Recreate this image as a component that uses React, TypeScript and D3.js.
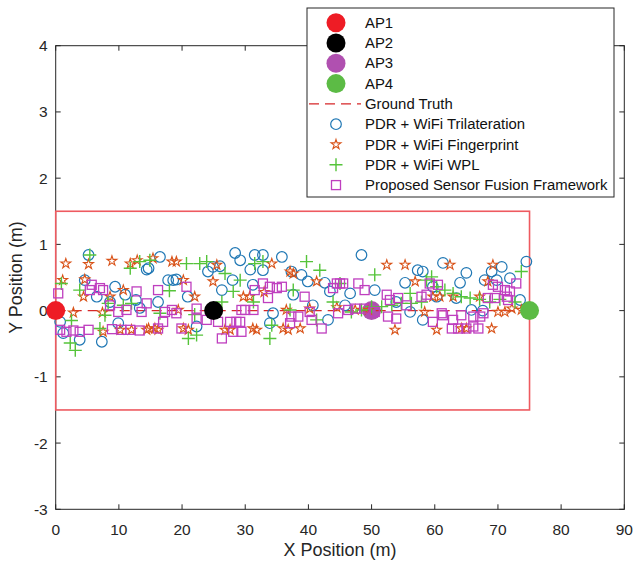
import React from "react";
import * as d3 from "d3";

const xTicks = [0, 10, 20, 30, 40, 50, 60, 70, 80, 90];
const yTicks = [-3, -2, -1, 0, 1, 2, 3, 4];

const apNames = ["AP1", "AP2", "AP3", "AP4"];
const apX = [0, 25, 50, 75];
const apY = [0, 0, 0, 0];
const apColors = ["#EE1C25", "#000000", "#B050B0", "#5CBB45"];

const groundTruthX = [0, 75];
const groundTruthY = [0, 0];

const zoneX = [0, 75];
const zoneY = [-1.5, 1.5];

// PDR + WiFi Trilateration [x, y]
const trilateration: [number, number][] = [
  [5.2, 0.84], [14.4, 0.62], [4.6, 0.46], [9.4, 0.36], [11, 0.24], [12.7, 0.16], [8.6, 0.13],
  [13.3, 0.04], [6.5, 0.21], [0.7, -0.17], [9.9, -0.19], [3.8, -0.44], [7.3, -0.47], [1.2, -0.34],
  [16.5, 0.81], [14.7, 0.64], [17.8, 0.46], [18.6, 0.46], [19.1, 0.47], [20.9, 0.21], [24.1, 0.59],
  [24.9, 0.66], [28.4, 0.87], [29.2, 0.76], [28, 0.46], [26.3, 0.31], [16.2, 0.13], [22.3, -0.24],
  [26, 0.67], [31.5, 0.84], [32.8, 0.84], [35.8, 0.81], [32.8, 0.61], [37.3, 0.59], [38.9, 0.54],
  [39.9, 0.44], [31.2, 0.39], [42.6, 0.42], [43.4, 0.29], [37.6, 0.24], [40.7, 0.08], [34.4, -0.04],
  [33.9, -0.19], [43.1, -0.14], [48.4, 0.84], [57.3, 0.61], [58.1, 0.59], [55.3, 0.42], [50.5, 0.31],
  [46.6, 0.26], [45.8, 0.08], [53.9, 0.13], [56.1, -0.02], [58.1, -0.14], [59.7, 0.36], [61.3, 0.72],
  [65, 0.57], [64, 0.42], [69, 0.59], [69.8, 0.46], [71.9, 0.49], [70.6, 0.66], [74.5, 0.74],
  [67.9, 0.46], [73.5, 0.16], [65.8, 0.01], [60.3, 0.21], [63.4, 0.19], [67.6, 0.0], [30.8, 0.62],
];

// PDR + WiFi Fingerprint [x, y]
const fingerprint: [number, number][] = [
  [1.6, 0.71], [5.2, 0.7], [8.9, 0.75], [11.8, 0.71], [12.9, 0.76], [1.1, 0.46], [4.6, 0.47],
  [4.4, 0.21], [2.8, -0.03], [7.4, -0.03], [8.6, 0.21], [10.7, 0.31], [10.2, -0.29], [12, -0.29],
  [14.4, -0.29], [7.5, -0.32], [15.4, 0.79], [18.4, 0.74], [19.1, 0.74], [25.5, 0.69], [20.2, 0.46],
  [24.9, 0.44], [22, 0.21], [14.7, -0.27], [15.7, -0.27], [16.2, -0.29], [20.2, -0.27], [21, -0.29],
  [26.8, -0.29], [27.6, -0.29], [19.4, 0.01], [34.2, 0.71], [37.1, 0.59], [37.6, 0.56], [41.3, 0.44],
  [29.7, 0.21], [30.7, 0.21], [40.2, 0.03], [31.2, -0.27], [31.8, -0.29], [36, -0.27], [36.8, -0.29],
  [38.7, -0.27], [36.5, 0.01], [52.4, 0.69], [55.3, 0.69], [56.9, 0.44], [53.7, -0.29], [58.4, -0.02],
  [47.4, 0.01], [49.5, 0.01], [62.4, 0.69], [69.2, 0.69], [59.7, 0.21], [60.8, 0.21], [62.9, 0.21],
  [67.1, 0.21], [68.4, 0.44], [70, -0.02], [71.1, -0.02], [72.2, 0.03], [73.7, 0.01], [60.3, -0.29],
  [64.2, -0.27], [65, -0.27], [69, -0.27], [33, 0.28], [44.5, 0.05],
];

// PDR + WiFi WPL [x, y]
const wpl: [number, number][] = [
  [5.4, 0.84], [11.8, 0.64], [13.3, 0.74], [3.8, 0.31], [8.3, 0.11], [7.8, -0.07], [7, -0.27],
  [0.9, 0.41], [12, 0.11], [2.3, -0.49], [3.1, -0.6], [10.7, 0.08], [14.9, 0.76], [20.7, 0.71],
  [22.8, 0.71], [23.9, 0.74], [26.8, 0.56], [28.1, 0.29], [26.3, 0.13], [16.5, -0.04], [21, -0.42],
  [22.3, -0.37], [22, -0.06], [29.2, 0.46], [31.5, 0.71], [32.8, 0.74], [39.7, 0.74], [41.8, 0.61],
  [37.6, 0.31], [31.3, 0.13], [37.1, 0.01], [41.3, -0.14], [34.2, -0.22], [33.9, -0.42], [43.9, 0.13],
  [50.5, 0.54], [45, 0.41], [58.7, 0.46], [56.1, 0.26], [46.8, -0.02], [48.4, 0.01], [50, 0.06],
  [51.6, 0.06], [53.2, 0.08], [54.7, 0.11], [56.3, 0.11], [57.9, 0.13], [73.7, 0.59], [60.3, 0.36],
  [61.6, 0.31], [62.9, 0.26], [64.2, 0.21], [65.6, 0.19], [67.1, 0.17], [68.7, 0.13], [70.3, 0.17],
  [72.7, 0.13], [59.5, 0.51], [18, 0.3], [2.5, -0.15],
];

// Proposed Sensor Fusion Framework [x, y]
const proposed: [number, number][] = [
  [0.4, 0.26], [5.7, 0.39], [7, 0.34], [7.5, 0.31], [5.4, 0.31], [12.8, 0.29], [9.9, -0.02],
  [11.2, 0.01], [8.6, 0.08], [0.7, -0.29], [1.7, -0.32], [2.8, -0.3], [3.8, -0.32], [5.2, -0.29],
  [8.9, -0.28], [10.4, -0.29], [11.8, -0.29], [13.3, -0.3], [13.6, -0.02], [16.2, 0.31], [20.7, 0.36],
  [14.4, 0.11], [17.3, -0.02], [18.4, 0.01], [19.1, -0.04], [17, -0.17], [16.2, -0.27], [19.9, -0.27],
  [22.3, 0.03], [22.3, -0.12], [23.9, -0.14], [25.7, -0.17], [27.6, -0.17], [28.6, -0.17],
  [26.3, -0.42], [28.1, -0.32], [29.4, 0.01], [32.8, 0.41], [31.5, 0.31], [33.9, 0.36], [35, 0.34],
  [35.8, 0.36], [29.2, -0.17], [30, 0.01], [31.3, 0.01], [33.6, 0.19], [37.3, -0.09], [37.1, -0.19],
  [38.4, -0.09], [40.2, -0.02], [40.5, -0.14], [42.1, -0.27], [39.4, 0.21], [43.9, 0.34], [44.5, 0.41],
  [29.4, -0.32], [45, 0.41], [45.5, 0.41], [47.9, 0.41], [48.9, 0.31], [52.4, 0.24], [52.9, 0.16],
  [54.2, 0.19], [57.9, 0.21], [58.7, 0.24], [52.6, -0.09], [53.9, -0.12], [55.5, 0.08], [46.3, 0.01],
  [47.4, 0.03], [48.9, 0.03], [50.5, -0.02], [44.7, -0.04], [59.2, 0.41], [60.5, 0.39], [69.2, 0.39],
  [70, 0.36], [71.1, 0.31], [71.9, 0.29], [72.9, 0.41], [69.5, 0.19], [61.1, -0.04], [61.3, -0.07],
  [59.7, -0.17], [64.2, -0.07], [62.9, -0.14], [66.1, -0.09], [67.2, -0.09], [67.7, -0.04], [62.7, -0.27],
  [63.7, -0.27], [65, -0.27], [66.1, -0.24], [66.9, -0.27], [71.4, 0.21], [71.6, 0.16], [68.4, 0.19],
];

const seriesNames = [
  "Ground Truth",
  "PDR + WiFi Trilateration",
  "PDR + WiFi Fingerprint",
  "PDR + WiFi WPL",
  "Proposed Sensor Fusion Framework",
];

const W = 634;
const H = 565;
const M = { left: 55.7, right: 624.3, top: 45.7, bottom: 509.3 };

const C_BLUE = "#1F77B4";
const C_ORANGE = "#D95319";
const C_GREEN = "#55C43A";
const C_MAGENTA = "#BF3FBF";
const C_ZONE = "#EE5A60";
const C_GT = "#D62728";
const AXIS = "#262626";
const FONT = "'Liberation Sans', Arial, Helvetica, sans-serif";

const starPath = d3.symbol().type(d3.symbolStar).size(30)() as string;

function Star({ x, y }: { x: number; y: number }) {
  return (
    <path d={starPath} transform={`translate(${x},${y})`} fill="none" stroke={C_ORANGE} strokeWidth={1.1} />
  );
}
function Plus({ x, y, s = 6.5 }: { x: number; y: number; s?: number }) {
  return (
    <path d={`M${x - s},${y}H${x + s}M${x},${y - s}V${y + s}`} stroke={C_GREEN} strokeWidth={1.4} fill="none" />
  );
}
function Square({ x, y, s = 4.5 }: { x: number; y: number; s?: number }) {
  return (
    <rect x={x - s} y={y - s} width={2 * s} height={2 * s} fill="none" stroke={C_MAGENTA} strokeWidth={1.3} />
  );
}
function Circ({ x, y }: { x: number; y: number }) {
  return <circle cx={x} cy={y} r={5.3} fill="none" stroke={C_BLUE} strokeWidth={1.2} />;
}

export default function App() {
  const x = d3.scaleLinear().domain([0, 90]).range([M.left, M.right]);
  const y = d3.scaleLinear().domain([-3, 4]).range([M.bottom, M.top]);
  const tick = 5;

  const legX = 307;
  const legY = 8;
  const legW = 307;
  const legH = 189;
  const rowY = (i: number) => 22.7 + i * 20.3;
  const mX = 336;
  const tX = 365;

  return (
    <svg width={W} height={H} style={{ position: "absolute", left: 0, top: 0, background: "#fff" }}>
      <rect x={0} y={0} width={W} height={H} fill="#fff" />
      {/* axes box */}
      <g stroke={AXIS} strokeWidth={1} fill="none">
        <rect x={M.left} y={M.top} width={M.right - M.left} height={M.bottom - M.top} />
        {xTicks.map((t) => (
          <g key={"xt" + t}>
            <line x1={x(t)} x2={x(t)} y1={M.bottom} y2={M.bottom - tick} />
            <line x1={x(t)} x2={x(t)} y1={M.top} y2={M.top + tick} />
          </g>
        ))}
        {yTicks.map((t) => (
          <g key={"yt" + t}>
            <line x1={M.left} x2={M.left + tick} y1={y(t)} y2={y(t)} />
            <line x1={M.right} x2={M.right - tick} y1={y(t)} y2={y(t)} />
          </g>
        ))}
      </g>
      <g fill={AXIS} fontFamily={FONT} fontSize={15.5}>
        {xTicks.map((t) => (
          <text key={"xl" + t} x={x(t)} y={M.bottom + 26} textAnchor="middle">
            {t}
          </text>
        ))}
        {yTicks.map((t) => (
          <text key={"yl" + t} x={M.left - 8} y={y(t) + 5.5} textAnchor="end">
            {t}
          </text>
        ))}
      </g>
      <text x={(M.left + M.right) / 2} y={556} textAnchor="middle" fontFamily={FONT} fontSize={18} fill={AXIS}>
        X Position (m)
      </text>
      <text
        transform={`translate(22,${(M.top + M.bottom) / 2}) rotate(-90)`}
        textAnchor="middle"
        fontFamily={FONT}
        fontSize={18}
        fill={AXIS}
      >
        Y Position (m)
      </text>

      {/* zone rectangle */}
      <rect
        x={x(zoneX[0])}
        y={y(zoneY[1])}
        width={x(zoneX[1]) - x(zoneX[0])}
        height={y(zoneY[0]) - y(zoneY[1])}
        fill="none"
        stroke={C_ZONE}
        strokeWidth={1.6}
      />
      {/* AP3 underneath */}
      <circle cx={x(apX[2])} cy={y(apY[2])} r={9.5} fill={apColors[2]} />
      {/* ground truth */}
      <line
        x1={x(groundTruthX[0])}
        x2={x(groundTruthX[1])}
        y1={y(groundTruthY[0])}
        y2={y(groundTruthY[1])}
        stroke={C_GT}
        strokeWidth={1.2}
        strokeDasharray="10,6"
      />
      {trilateration.map((d, i) => (
        <Circ key={"c" + i} x={x(d[0])} y={y(d[1])} />
      ))}
      {fingerprint.map((d, i) => (
        <Star key={"s" + i} x={x(d[0])} y={y(d[1])} />
      ))}
      {wpl.map((d, i) => (
        <Plus key={"p" + i} x={x(d[0])} y={y(d[1])} />
      ))}
      {proposed.map((d, i) => (
        <Square key={"q" + i} x={x(d[0])} y={y(d[1])} />
      ))}
      {[0, 1, 3].map((i) => (
        <circle key={"ap" + i} cx={x(apX[i])} cy={y(apY[i])} r={9.5} fill={apColors[i]} />
      ))}

      {/* legend */}
      <rect x={legX} y={legY} width={legW} height={legH} fill="#fff" stroke={AXIS} strokeWidth={1} />
      <g fontFamily={FONT} fontSize={14.9} fill="#111">
        {apNames.map((n, i) => (
          <g key={"lg" + i}>
            <circle cx={mX} cy={rowY(i)} r={9.5} fill={apColors[i]} />
            <text x={tX} y={rowY(i) + 5}>
              {n}
            </text>
          </g>
        ))}
        <line x1={309} x2={361} y1={rowY(4)} y2={rowY(4)} stroke={C_GT} strokeWidth={1.2} strokeDasharray="10,6" />
        <text x={tX} y={rowY(4) + 5}>{seriesNames[0]}</text>
        <Circ x={mX} y={rowY(5)} />
        <text x={tX} y={rowY(5) + 5}>{seriesNames[1]}</text>
        <Star x={mX} y={rowY(6)} />
        <text x={tX} y={rowY(6) + 5}>{seriesNames[2]}</text>
        <Plus x={mX} y={rowY(7)} />
        <text x={tX} y={rowY(7) + 5}>{seriesNames[3]}</text>
        <Square x={mX} y={rowY(8)} />
        <text x={tX} y={rowY(8) + 5}>{seriesNames[4]}</text>
      </g>
    </svg>
  );
}
